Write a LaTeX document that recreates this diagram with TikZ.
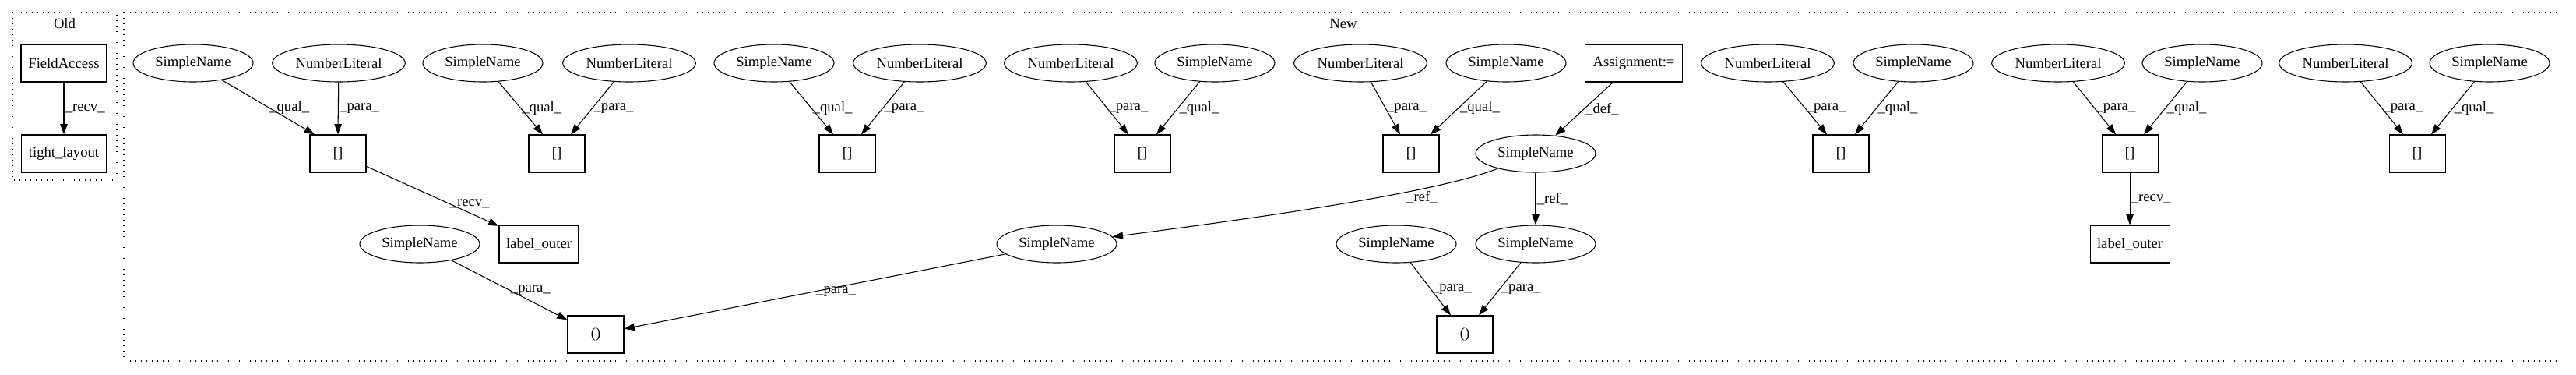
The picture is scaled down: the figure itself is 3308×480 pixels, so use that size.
\documentclass[tikz,border=0pt]{standalone}
\usepackage{fontspec}
\setmainfont{Liberation Serif}
\usetikzlibrary{shapes.geometric,arrows.meta,calc}
\begin{document}
\begin{tikzpicture}[x=0.75pt,y=-0.75pt,
  every node/.style={font=\fontsize{14}{16}\selectfont},
  ell/.style={draw, ellipse, line width=0.8pt, minimum height=36pt, inner sep=0pt},
  sn/.style={ell, minimum width=115.5pt},
  nl/.style={ell, minimum width=128pt},
  bx/.style={draw, rectangle, line width=0.8pt, minimum height=36pt, inner sep=0pt},
  idx/.style={bx, minimum width=54pt},
  arr/.style={draw, line width=0.8pt, -{Triangle[length=10pt,width=7pt]}},
  lbl/.style={anchor=west, inner sep=1pt, pos=0.5},
  clus/.style={draw, line width=0.8pt, dash pattern=on 1pt off 4.25pt},
]
\useasboundingbox (0,0) rectangle (3308,480);
% clusters
\draw[clus] (16,16) rectangle (150,231);
\node (oldlbl) at (83,30) {Old};
\draw[clus] (159,16) rectangle (3283,463);
\node (newlbl) at (1725,30) {New};
% Old
\node[bx, minimum width=82.5pt] (fa) at (82,81) {FieldAccess};
\node[bx, minimum width=82pt] (tl) at (82,197) {tight\_layout};
\draw[arr] (fa) -- node[lbl]{\_recv\_} (tl);
% group 1
\node[sn] (sn1) at (248,81) {SimpleName};
\node[nl] (nl1) at (435,81) {NumberLiteral};
\node[idx] (b1) at (434,197) {[]};
\node[bx, minimum width=76.5pt] (lo1) at (692,313) {label\_outer};
\draw[arr] (sn1) -- node[lbl]{\_qual\_} ($(b1.north)+(-30,0)$);
\draw[arr] (nl1) -- node[lbl]{\_para\_} ($(b1.north)+(0,0)$);
\draw[arr] (b1) -- node[lbl, pos=0.62]{\_recv\_} (lo1);
% group 2
\node[sn] (sn2) at (620,81) {SimpleName};
\node[nl] (nl2) at (808,81) {NumberLiteral};
\node[idx] (b2) at (715,197) {[]};
\draw[arr] (sn2) -- node[lbl]{\_qual\_} ($(b2.north)+(-18,0)$);
\draw[arr] (nl2) -- node[lbl]{\_para\_} ($(b2.north)+(18,0)$);
% group 3
\node[sn] (sn3) at (994,81) {SimpleName};
\node[nl] (nl3) at (1181,81) {NumberLiteral};
\node[idx] (b3) at (1088,197) {[]};
\draw[arr] (sn3) -- node[lbl]{\_qual\_} ($(b3.north)+(-18,0)$);
\draw[arr] (nl3) -- node[lbl]{\_para\_} ($(b3.north)+(18,0)$);
% group 4
\node[nl] (nl4) at (1375,81) {NumberLiteral};
\node[sn] (sn4) at (1560,81) {SimpleName};
\node[idx] (b4) at (1467,197) {[]};
\draw[arr] (nl4) -- node[lbl]{\_para\_} ($(b4.north)+(-18,0)$);
\draw[arr] (sn4) -- node[lbl]{\_qual\_} ($(b4.north)+(18,0)$);
% group 5
\node[nl] (nl5) at (1747,81) {NumberLiteral};
\node[sn] (sn5) at (1934,81) {SimpleName};
\node[idx] (b5) at (1812,197) {[]};
\draw[arr] (nl5) -- node[lbl]{\_para\_} ($(b5.north)+(-14,0)$);
\draw[arr] (sn5) -- node[lbl]{\_qual\_} ($(b5.north)+(25,0)$);
% assignment and refs
\node[bx, minimum width=94pt] (asg) at (2098,81) {Assignment:=};
\node[sn] (sndef) at (1972,197) {SimpleName};
\node[sn] (snr1) at (1357,313) {SimpleName};
\node[sn] (snr2) at (1972,313) {SimpleName};
\node[sn] (snl) at (539,313) {SimpleName};
\node[sn] (snm) at (1793,313) {SimpleName};
\node[idx] (c1) at (765,429) {()};
\node[idx] (c2) at (1881,429) {()};
\draw[arr] (asg) -- node[lbl]{\_def\_} (sndef);
\draw[arr] (sndef) .. controls (1850,245) and (1650,275) .. node[pos=0.3, anchor=north, inner sep=2pt]{\_ref\_} (snr1);
\draw[arr] (sndef) -- node[lbl]{\_ref\_} (snr2);
\draw[arr] (snl) -- node[lbl]{\_para\_} (c1);
\draw[arr] (snr1) -- node[lbl]{\_para\_} (c1);
\draw[arr] (snm) -- node[lbl]{\_para\_} ($(c2.north)+(-18,0)$);
\draw[arr] (snr2) -- node[lbl]{\_para\_} ($(c2.north)+(18,0)$);
% group 6
\node[nl] (nl6) at (2270,81) {NumberLiteral};
\node[sn] (sn6) at (2457,81) {SimpleName};
\node[idx] (b6) at (2364,197) {[]};
\draw[arr] (nl6) -- node[lbl]{\_para\_} ($(b6.north)+(-18,0)$);
\draw[arr] (sn6) -- node[lbl]{\_qual\_} ($(b6.north)+(18,0)$);
% group 7
\node[nl] (nl7) at (2643,81) {NumberLiteral};
\node[sn] (sn7) at (2828,81) {SimpleName};
\node[idx] (b7) at (2735,197) {[]};
\node[bx, minimum width=76.5pt] (lo2) at (2735,313) {label\_outer};
\draw[arr] (nl7) -- node[lbl]{\_para\_} ($(b7.north)+(-18,0)$);
\draw[arr] (sn7) -- node[lbl]{\_qual\_} ($(b7.north)+(18,0)$);
\draw[arr] (b7) -- node[lbl]{\_recv\_} (lo2);
% group 8
\node[nl] (nl8) at (3012,81) {NumberLiteral};
\node[sn] (sn8) at (3197,81) {SimpleName};
\node[idx] (b8) at (3104,197) {[]};
\draw[arr] (nl8) -- node[lbl]{\_para\_} ($(b8.north)+(-18,0)$);
\draw[arr] (sn8) -- node[lbl]{\_qual\_} ($(b8.north)+(18,0)$);
\end{tikzpicture}
\end{document}
